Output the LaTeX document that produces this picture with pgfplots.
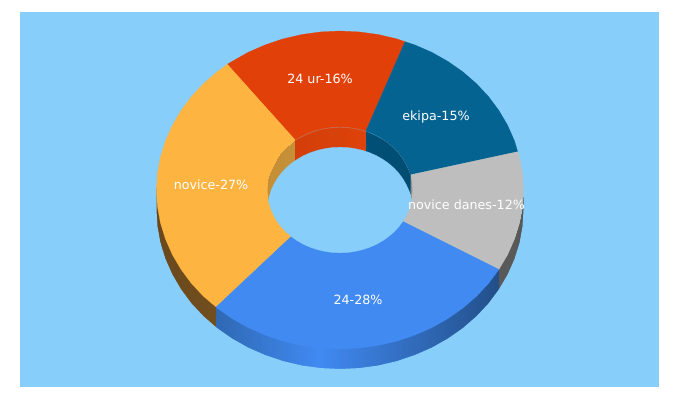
\documentclass[border=0pt]{standalone}
\usepackage{fontspec}
\setmainfont{DejaVu Sans}
\usepackage{pgfplots}
\pgfplotsset{compat=1.18}
\definecolor{bgblue}{RGB}{135,206,250}
\definecolor{sliceorange}{RGB}{253,180,65}
\definecolor{slicered}{RGB}{225,65,8}
\definecolor{slicedark}{RGB}{4,99,145}
\definecolor{slicegray}{RGB}{190,190,190}
\definecolor{sliceblue}{RGB}{64,138,242}
\pgfplotsset{
  colormap={wallorange}{rgb255(156)=(105,72,28); rgb255(216)=(160,112,45)},
  colormap={wallblue}{rgb255(215)=(37,85,143); rgb255(340)=(64,138,242); rgb255(499)=(30,70,120)},
  colormap={wallgray}{rgb255(499)=(105,105,105); rgb255(526)=(88,88,88)},
  colormap={innerorange}{rgb255(268)=(185,135,50); rgb255(296)=(218,160,65)},
  colormap={innerred}{rgb255(295)=(190,55,8); rgb255(340)=(225,68,10); rgb255(366)=(198,55,8)},
  colormap={innerdark}{rgb255(366)=(2,95,140); rgb255(411)=(0,68,102)},
}
\begin{document}
\begin{tikzpicture}
\begin{axis}[
    width=680pt,
    height=400pt,
    scale only axis,
    hide axis,
    xmin=0, xmax=680,
    ymin=0, ymax=400,
    y dir=reverse,
    enlargelimits=false,
    every axis plot/.append style={no markers},
]
% page and background
\addplot[draw=none, fill=white] coordinates {(0,0) (680,0) (680,400) (0,400)} --cycle;
\addplot[draw=none, fill=bgblue] coordinates {(20,12) (659,12) (659,387) (20,387)} --cycle;

% outer wall, a little oversized, top edge under the face and lower edge under the mask
\addplot[surf, shader=interp, mesh/rows=2, point meta=x, colormap name=wallorange, point meta min=156, point meta max=216] coordinates {
    (156.5,188) (157.5,204.6) (160.5,221.1) (165.5,237.1) (172.4,252.7) (181.1,267.5) (191.5,281.5) (203.6,294.4) (215.7,304.7)
    (156.5,212) (157.5,228.6) (160.5,245.1) (165.5,261.1) (172.4,276.7) (181.1,291.5) (191.5,305.5) (203.6,318.4) (215.7,328.7)
};
\addplot[surf, shader=interp, mesh/rows=2, point meta=x, colormap name=wallblue, point meta min=215, point meta max=499] coordinates {
    (215.7,304.7) (232.1,316.6) (248.2,325.7) (265.4,333.2) (283.3,339.2) (301.9,343.5) (320.8,346.1) (340,347) (359.2,346.1) (378.1,343.5) (396.7,339.2) (414.6,333.2) (431.8,325.7) (447.9,316.6) (462.8,306.2) (476.4,294.4) (488.5,281.5) (498.9,267.5)
    (215.7,328.7) (232.1,340.6) (248.2,349.7) (265.4,357.2) (283.3,363.2) (301.9,367.5) (320.8,370.1) (340,371) (359.2,370.1) (378.1,367.5) (396.7,363.2) (414.6,357.2) (431.8,349.7) (447.9,340.6) (462.8,330.2) (476.4,318.4) (488.5,305.5) (498.9,291.5)
};
\addplot[surf, shader=interp, mesh/rows=2, point meta=x, colormap name=wallgray, point meta min=499, point meta max=526] coordinates {
    (498.9,267.5) (507.6,252.7) (514.5,237.1) (519.5,221.1) (522.5,204.6) (523.5,188)
    (498.9,291.5) (507.6,276.7) (514.5,261.1) (519.5,245.1) (522.5,228.6) (523.5,212)
};
% mask that gives the wall a clean lower edge
\addplot[draw=bgblue, line width=4pt, line join=round] coordinates {
    (154.5,185) (154.5,210) (155.5,226.8) (158.5,243.5) (163.6,259.7) (170.6,275.5) (179.4,290.5) (189.9,304.7) (202.1,317.7) (215.9,329.7) (230.9,340.2) (247.2,349.4) (264.6,357) (282.7,363.1) (301.5,367.5) (320.6,370.1) (340,371) (359.4,370.1) (378.5,367.5) (397.3,363.1) (415.4,357) (432.8,349.4) (449.1,340.2) (464.1,329.7) (477.9,317.7) (490.1,304.7) (500.6,290.5) (509.4,275.5) (516.4,259.7) (521.5,243.5) (524.5,226.8) (525.5,210) (525.5,185)
};

% top face
\addplot[draw=slicered, line width=0.2pt, fill=slicered] coordinates {
    (340,190) (405,41.7) (396.7,38.8) (378.1,34.5) (359.2,31.9) (340,31) (320.8,31.9) (301.9,34.5) (283.3,38.8) (265.4,44.8) (248.2,52.3) (232.1,61.4) (227.3,64.3)
} --cycle;
\addplot[draw=slicedark, line width=0.2pt, fill=slicedark] coordinates {
    (340,190) (517.7,151.7) (514.5,140.9) (507.6,125.3) (498.9,110.5) (488.5,96.5) (476.4,83.6) (462.8,71.8) (447.9,61.4) (431.8,52.3) (414.6,44.8) (405,41.7)
} --cycle;
\addplot[draw=slicegray, line width=0.2pt, fill=slicegray] coordinates {
    (340,190) (498.9,269.5) (507.6,254.7) (514.5,239.1) (519.5,223.1) (522.5,206.6) (523.5,190) (522.5,173.4) (519.5,156.9) (517.7,151.7)
} --cycle;
\addplot[draw=sliceblue, line width=0.2pt, fill=sliceblue] coordinates {
    (340,190) (215.7,306.7) (217.2,308.2) (232.1,318.6) (248.2,327.7) (265.4,335.2) (283.3,341.2) (301.9,345.5) (320.8,348.1) (340,349) (359.2,348.1) (378.1,345.5) (396.7,341.2) (414.6,335.2) (431.8,327.7) (447.9,318.6) (462.8,308.2) (476.4,296.4) (488.5,283.5) (498.9,269.5)
} --cycle;
\addplot[draw=sliceorange, line width=0.2pt, fill=sliceorange] coordinates {
    (340,190) (227.3,64.3) (217.2,71.8) (203.6,83.6) (191.5,96.5) (181.1,110.5) (172.4,125.3) (165.5,140.9) (160.5,156.9) (157.5,173.4) (156.5,190) (157.5,206.6) (160.5,223.1) (165.5,239.1) (172.4,254.7) (181.1,269.5) (191.5,283.5) (203.6,296.4) (215.7,306.7)
} --cycle;

% inner wall
\addplot[draw=none, fill={rgb,255:red,185;green,135;blue,50}] coordinates {(268.4,180.2) (267.5,190) (268.4,200.2)} --cycle;
\addplot[surf, shader=interp, mesh/rows=2, point meta=x, colormap name=innerorange, point meta min=268, point meta max=296] coordinates {
    (268.4,180.2) (269.1,176.9) (271,170.6) (273.8,164.5) (277.2,158.6) (281.3,153.1) (286.1,148) (291.5,143.3) (295.2,140)
    (268.4,200.2) (269.1,196.9) (271,190.6) (273.8,184.5) (277.2,178.6) (281.3,173.1) (286.1,168) (291.5,163.3) (295.2,160)
};
\addplot[surf, shader=interp, mesh/rows=2, point meta=x, colormap name=innerred, point meta min=295, point meta max=366] coordinates {
    (295.2,140) (303.7,135.6) (310.5,132.6) (317.6,130.3) (324.9,128.6) (332.4,127.5) (340,127.2) (347.6,127.5) (355.1,128.6) (362.4,130.3) (365.7,131.3)
    (295.2,160) (303.7,155.6) (310.5,152.6) (317.6,150.3) (324.9,148.6) (332.4,147.5) (340,147.2) (347.6,147.5) (355.1,148.6) (362.4,150.3) (365.7,151.3)
};
\addplot[surf, shader=interp, mesh/rows=2, point meta=x, colormap name=innerdark, point meta min=366, point meta max=411] coordinates {
    (365.7,131.3) (369.5,132.6) (376.3,135.6) (382.6,139.2) (388.5,143.3) (393.9,148) (398.7,153.1) (402.8,158.6) (406.2,164.5) (409,170.6) (410.7,174.5)
    (365.7,151.3) (369.5,152.6) (376.3,155.6) (382.6,159.2) (388.5,163.3) (393.9,168) (398.7,173.1) (402.8,178.6) (406.2,184.5) (409,190.6) (410.7,194.5)
};
\addplot[draw=none, fill={rgb,255:red,145;green,145;blue,145}] coordinates {
    (410.7,174.5) (411.6,180.2) (412.5,190) (411.6,200.2) (410.7,194.5)
} --cycle;
% faint rim of the hole
\addplot[draw=bgblue, line width=0.5pt, opacity=0.4] coordinates {
    (295.2,140) (303.7,135.6) (310.5,132.6) (317.6,130.3) (324.9,128.6) (332.4,127.5) (340,127.2) (347.6,127.5) (355.1,128.6) (362.4,130.3) (369.5,132.6) (376.3,135.6) (382.6,139.2) (388.5,143.3) (393.9,148) (398.7,153.1) (402.8,158.6) (406.2,164.5) (409,170.6) (410.7,174.5)
};

% hole
\addplot[draw=bgblue, line width=0.2pt, fill=bgblue] coordinates {
    (268.4,200.2) (269.1,196.9) (271,190.6) (273.8,184.5) (277.2,178.6) (281.3,173.1) (286.1,168) (291.5,163.3) (297.4,159.2) (303.7,155.6) (310.5,152.6) (317.6,150.3) (324.9,148.6) (332.4,147.5) (340,147.2) (347.6,147.5) (355.1,148.6) (362.4,150.3) (369.5,152.6) (376.3,155.6) (382.6,159.2) (388.5,163.3) (393.9,168) (398.7,173.1) (402.8,178.6) (406.2,184.5) (409,190.6) (410.9,196.9) (411.6,200.2)
    (410.9,203.1) (409,209.4) (406.2,215.5) (402.8,221.4) (398.7,226.9) (393.9,232) (388.5,236.7) (382.6,240.8) (376.3,244.4) (369.5,247.4) (362.4,249.7) (355.1,251.4) (347.6,252.5) (340,252.8) (332.4,252.5) (324.9,251.4) (317.6,249.7) (310.5,247.4) (303.7,244.4) (297.4,240.8) (291.5,236.7) (286.1,232) (281.3,226.9) (277.2,221.4) (273.8,215.5) (271,209.4) (269.1,203.1)
} --cycle;

% labels
\node[text=white, anchor=base, font=\fontsize{12.7}{15}\selectfont] at (axis cs:211,189.3) {novice-27\%};
\node[text=white, anchor=base, font=\fontsize{12.7}{15}\selectfont] at (axis cs:320,83.3) {24 ur-16\%};
\node[text=white, anchor=base, font=\fontsize{12.7}{15}\selectfont] at (axis cs:436,120) {ekipa-15\%};
\node[text=white, anchor=base, font=\fontsize{12.7}{15}\selectfont] at (axis cs:466.5,209) {novice danes-12\%};
\node[text=white, anchor=base, font=\fontsize{12.7}{15}\selectfont] at (axis cs:358,304.3) {24-28\%};
\end{axis}
\end{tikzpicture}
\end{document}
